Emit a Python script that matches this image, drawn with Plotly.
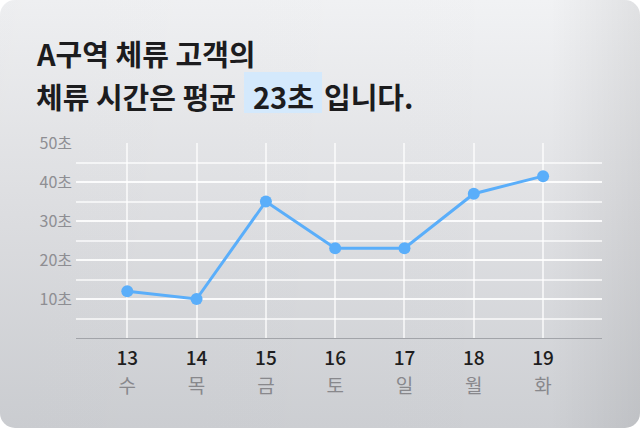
import base64
import plotly.graph_objects as go

# data
dates = [13, 14, 15, 16, 17, 18, 19]
weekdays = ["수", "목", "금", "토", "일", "월", "화"]
dwell_sec = [12, 10, 35, 23, 23, 37, 41.5]
y_tick_vals = [10, 20, 30, 40, 50]
y_tick_text = ["10초", "20초", "30초", "40초", "50초"]
title_line1 = "A구역 체류 고객의"
title_line2_pre = "체류 시간은 평균"
title_highlight = "23초"
title_line2_post = "입니다."

FONT = "Noto Sans CJK KR"
W, H = 640, 428
L, R, T, B = 76, 38, 143, 90
PW, PH = W - L - R, H - T - B
LINE_BLUE = "#5aaefa"


def px_x(px):
    # figure pixel -> paper x
    return (px - L) / PW


def px_y(py):
    # figure pixel -> paper y
    return (H - B - py) / PH


# card background: rounded rect with soft grey gradient
svg = """<svg xmlns='http://www.w3.org/2000/svg' width='640' height='428' viewBox='0 0 640 428' preserveAspectRatio='none'>
<defs>
<linearGradient id='v' x1='0' y1='0' x2='0' y2='1'>
<stop offset='0' stop-color='#f1f2f4'/><stop offset='0.5' stop-color='#dfe0e3'/><stop offset='1' stop-color='#cdcfd3'/>
</linearGradient>
<linearGradient id='h' x1='0' y1='0' x2='1' y2='0'>
<stop offset='0' stop-color='#000' stop-opacity='0.015'/><stop offset='0.86' stop-color='#000' stop-opacity='0'/>
<stop offset='1' stop-color='#000' stop-opacity='0.07'/>
</linearGradient>
</defs>
<rect width='640' height='428' rx='15' fill='url(#v)'/>
<rect width='640' height='428' rx='15' fill='url(#h)'/>
</svg>"""
bg_src = "data:image/svg+xml;base64," + base64.b64encode(svg.encode()).decode()

fig = go.Figure()

fig.add_trace(go.Scatter(
    x=dates,
    y=dwell_sec,
    mode="lines+markers",
    line=dict(color=LINE_BLUE, width=3),
    marker=dict(color=LINE_BLUE, size=12),
    hoverinfo="skip",
    showlegend=False
))
# dummy trace so the weekday axis gets drawn
fig.add_trace(go.Scatter(
    x=dates,
    y=dwell_sec,
    xaxis="x2",
    mode="markers",
    marker=dict(opacity=0),
    hoverinfo="skip",
    showlegend=False
))

x_range = [12.26, 19.85]
grid_col = "rgba(255,255,255,0.65)"

fig.update_layout(
    width=W, height=H,
    margin=dict(l=L, r=R, t=T, b=B),
    paper_bgcolor="white",
    plot_bgcolor="rgba(0,0,0,0)",
    font=dict(family=FONT),
    xaxis=dict(
        range=x_range,
        tickvals=dates,
        ticktext=[str(d) for d in dates],
        tickfont=dict(family=FONT, size=19, color="#1e1e20", weight=500),
        ticks="",
        ticklabelstandoff=3,
        showgrid=True,
        gridcolor=grid_col,
        gridwidth=1.5,
        showline=True,
        linecolor="#a2a4a9",
        linewidth=1,
        zeroline=False,
        fixedrange=True
    ),
    xaxis2=dict(
        range=x_range,
        overlaying="x",
        side="bottom",
        anchor="y",
        tickvals=dates,
        ticktext=weekdays,
        tickfont=dict(family=FONT, size=19, color="#88888c"),
        ticks="",
        ticklabelstandoff=35,
        showgrid=False,
        showline=False,
        zeroline=False,
        fixedrange=True
    ),
    yaxis=dict(
        range=[0, 50],
        tickvals=y_tick_vals,
        ticktext=y_tick_text,
        tickfont=dict(family=FONT, size=16, color="#8e8e93"),
        ticks="",
        ticklabelstandoff=3,
        showgrid=True,
        gridcolor=grid_col,
        gridwidth=1.5,
        minor=dict(dtick=5, tick0=0, showgrid=True,
                   gridcolor=grid_col, gridwidth=1.5),
        zeroline=False,
        showline=False,
        fixedrange=True
    ),
    images=[dict(
        source=bg_src,
        xref="paper", yref="paper",
        x=px_x(0), y=px_y(0),
        sizex=W / PW, sizey=H / PH,
        xanchor="left", yanchor="top",
        sizing="stretch",
        layer="below"
    )],
    shapes=[dict(
        type="rect",
        xref="paper", yref="paper",
        x0=px_x(244), x1=px_x(322),
        y0=px_y(113), y1=px_y(72),
        fillcolor="#d4e9fc",
        line=dict(width=0),
        layer="below"
    )]
)

title_font = dict(family=FONT, size=29, color="#1c1c1e", weight="bold")
fig.add_annotation(text=title_line1, xref="paper", yref="paper",
                   x=px_x(34), y=px_y(53), xanchor="left", yanchor="middle",
                   showarrow=False, font=title_font)
fig.add_annotation(text=title_line2_pre, xref="paper", yref="paper",
                   x=px_x(34), y=px_y(96), xanchor="left", yanchor="middle",
                   showarrow=False, font=title_font)
fig.add_annotation(text=title_highlight, xref="paper", yref="paper",
                   x=px_x(283), y=px_y(96), xanchor="center", yanchor="middle",
                   showarrow=False, font=title_font)
fig.add_annotation(text=title_line2_post, xref="paper", yref="paper",
                   x=px_x(322), y=px_y(96), xanchor="left", yanchor="middle",
                   showarrow=False, font=title_font)

fig.write_html("out.html", config={"displayModeBar": False},
               post_script="document.body.style.margin='0';")
